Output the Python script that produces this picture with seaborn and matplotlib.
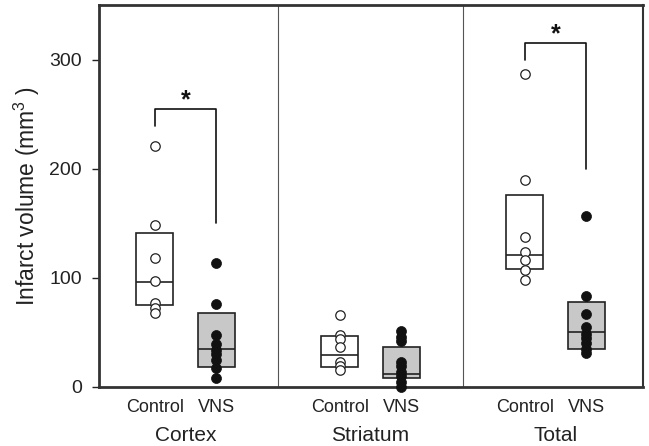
import matplotlib
matplotlib.use("Agg")
import matplotlib.pyplot as plt
import matplotlib.transforms as mtransforms
import seaborn as sns
import pandas as pd

# ---- data ----
regions = ["Cortex", "Striatum", "Total"]
treatments = ["Control", "VNS"]

cortex_control = [221, 148, 118, 97, 77, 72, 68]
cortex_vns = [114, 76, 48, 39, 34, 30, 25, 17, 8]
striatum_control = [66, 48, 44, 37, 23, 19, 16]
striatum_vns = [51, 46, 42, 23, 19, 14, 10, 5, 0]
total_control = [287, 190, 137, 124, 116, 107, 98]
total_vns = [157, 83, 67, 55, 49, 45, 40, 35, 31]

# box statistics (25th, median, 75th) in order: Cortex C, Cortex V, Striatum C, Striatum V, Total C, Total V
box_q1 = [75, 18.6, 18.7, 8, 108, 34.6]
box_med = [96, 34.6, 29.4, 12, 121, 50.7]
box_q3 = [141, 68, 46.8, 37, 176, 78]

# significance brackets
sig_regions = [0, 2]
sig_top = [255, 315]
sig_left_bottom = [239.5, 300]
sig_right_bottom = [150.5, 200]

yticks = [0, 100, 200, 300]

# ---- layout ----
positions = [0.93, 1.95, 3.99, 5.01, 7.05, 8.07]
dividers = [2.96, 6.03]

sns.set_theme(style="white")
plt.rcParams["font.family"] = ["Liberation Sans", "DejaVu Sans"]
plt.rcParams["mathtext.fontset"] = "custom"
plt.rcParams["mathtext.rm"] = "Liberation Sans"
plt.rcParams["mathtext.it"] = "Liberation Sans"

fig = plt.figure(figsize=(6.49, 4.46), dpi=100)
ax = fig.add_axes([0.152, 0.1323, 0.838, 0.8565])

series = [cortex_control, cortex_vns, striatum_control, striatum_vns, total_control, total_vns]
rows = []
for i, vals in enumerate(series):
    for v in vals:
        rows.append({"pos": positions[i], "value": v, "treatment": treatments[i % 2]})
df = pd.DataFrame(rows)

# boxes
stats = []
for i in range(6):
    stats.append({"q1": box_q1[i], "med": box_med[i], "q3": box_q3[i],
                  "whislo": box_q1[i], "whishi": box_q3[i], "fliers": []})
bp = ax.bxp(stats, positions=positions, widths=0.61, showcaps=False, showfliers=False,
            patch_artist=True,
            boxprops=dict(linewidth=1.2, edgecolor="#222222"),
            medianprops=dict(color="#222222", linewidth=1.2),
            whiskerprops=dict(linewidth=0))
for i, patch in enumerate(bp["boxes"]):
    patch.set_facecolor("white" if i % 2 == 0 else "#c8c8c8")
    patch.set_zorder(2)
for m in bp["medians"]:
    m.set_zorder(2.5)

# points
ctrl = df[df.treatment == "Control"]
vns = df[df.treatment == "VNS"]
sns.stripplot(data=ctrl, x="pos", y="value", native_scale=True, jitter=False, ax=ax,
              color="white", edgecolor="#222222", linewidth=0.9, size=6.8, zorder=3, clip_on=False)
sns.stripplot(data=vns, x="pos", y="value", native_scale=True, jitter=False, ax=ax,
              color="#111111", edgecolor="#111111", linewidth=0.5, size=7.2, zorder=3, clip_on=False)

# dividers
for d in dividers:
    ax.axvline(d, color="#555555", linewidth=0.8, zorder=1)

# significance brackets
for k, r in enumerate(sig_regions):
    xl = positions[2 * r]
    xr = positions[2 * r + 1]
    ax.plot([xl, xl, xr, xr], [sig_left_bottom[k], sig_top[k], sig_top[k], sig_right_bottom[k]],
            color="#111111", linewidth=1.2, zorder=4)
    ax.text((xl + xr) / 2, sig_top[k] + 8, "*", ha="center", va="center", fontsize=18,
            fontweight="bold", color="#111111")

ax.set_xlim(0, 9)
ax.set_ylim(0, 350)
ax.set_yticks(yticks)
ax.set_yticklabels([str(t) for t in yticks], fontsize=14, color="#222222")
ax.tick_params(axis="y", direction="out", length=5, width=1.0, pad=7, left=True, colors="#222222")
ax.tick_params(axis="x", length=0, pad=9)
ax.set_xticks(positions)
ax.set_xticklabels([treatments[i % 2] for i in range(6)], fontsize=13, color="#222222")
ax.set_xlabel("")
ax.set_ylabel("Infarct volume (mm$^{3}$ )", fontsize=16.5, color="#222222", labelpad=5)

for s in ["left", "bottom", "top"]:
    ax.spines[s].set_linewidth(2.0)
    ax.spines[s].set_color("#333333")
ax.spines["right"].set_linewidth(1.5)
ax.spines["right"].set_color("#333333")

trans = mtransforms.blended_transform_factory(ax.transData, fig.transFigure)
for r, name in enumerate(regions):
    cx = (positions[2 * r] + positions[2 * r + 1]) / 2
    ax.text(cx, 0.003, name, transform=trans, ha="center", va="bottom", fontsize=15,
            color="#222222")

fig.savefig("out.png", dpi=100)
